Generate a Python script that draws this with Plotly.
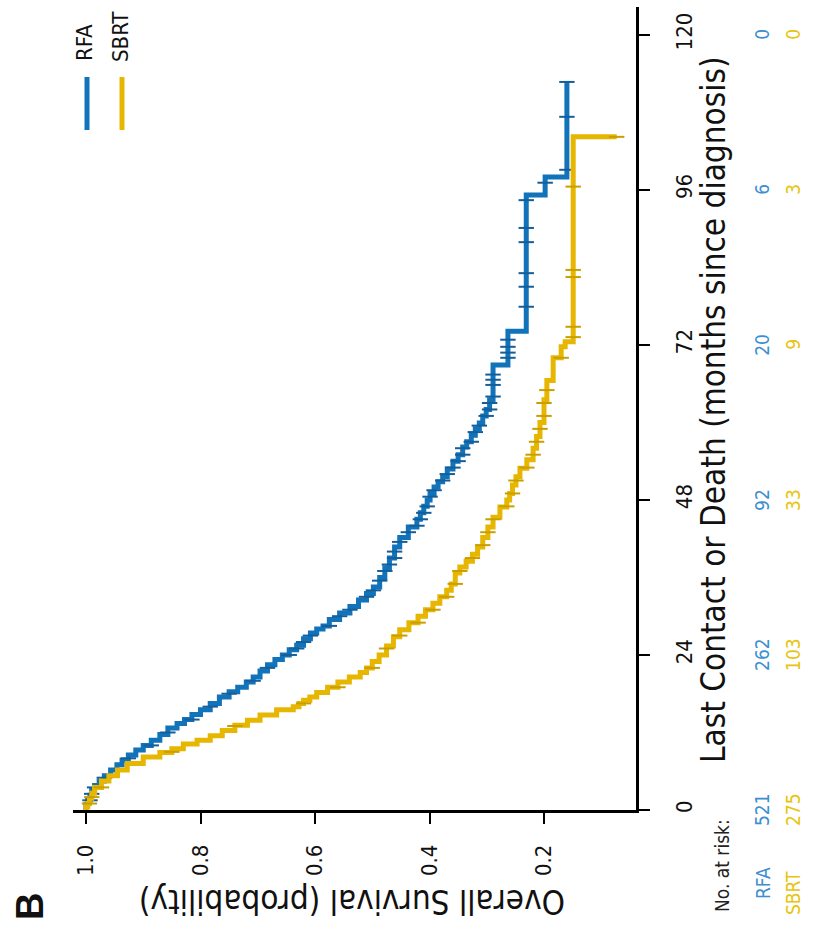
import numpy as np
import plotly.graph_objects as go

# ---------------- data ----------------
rfa_months = [0, 0.8, 1.5, 2.3, 3.1, 3.8, 4.5, 5.3, 6.2, 7.0, 7.7, 8.5, 9.3, 10.0, 10.8, 11.7,
              12.7, 13.4, 14.0, 14.8, 15.5, 16.5, 17.5, 18.3, 19.0, 19.8, 20.6, 21.5, 22.5, 23.3,
              24.0, 24.8, 25.5, 26.5, 27.4, 28.0, 28.5, 29.5, 30.5, 31.5, 32.5, 33.5, 34.5, 36.0,
              37.5, 39.0, 40.7, 42.2, 43.8, 45.0, 46.0, 47.0, 48.0, 49.0, 50.0, 50.8, 51.6, 52.8,
              54.0, 55.0, 56.2, 57.0, 58.0, 59.0, 59.9, 61.0, 62.0, 63.5, 68.9, 74.1, 95.2, 98.0,
              112.7]
rfa_surv = [1.0, 0.997, 0.993, 0.990, 0.985, 0.977, 0.968, 0.957, 0.946, 0.937, 0.926, 0.913,
            0.900, 0.886, 0.871, 0.857, 0.841, 0.828, 0.815, 0.800, 0.783, 0.767, 0.750, 0.735,
            0.720, 0.708, 0.696, 0.683, 0.670, 0.657, 0.645, 0.632, 0.620, 0.608, 0.597, 0.586,
            0.575, 0.557, 0.539, 0.524, 0.510, 0.498, 0.487, 0.478, 0.470, 0.461, 0.452, 0.437,
            0.422, 0.416, 0.410, 0.404, 0.399, 0.392, 0.385, 0.377, 0.369, 0.359, 0.350, 0.342,
            0.335, 0.327, 0.320, 0.313, 0.307, 0.301, 0.295, 0.289, 0.263, 0.231, 0.198, 0.160,
            0.160]

sbrt_months = [0, 0.5, 1.0, 1.8, 2.6, 3.5, 4.5, 5.3, 6.2, 7.2, 8.2, 8.9, 9.5, 10.2, 10.8, 11.5,
               12.3, 13.1, 13.9, 14.7, 15.5, 16.0, 16.5, 17.0, 17.5, 18.2, 19.0, 19.8, 20.6, 21.3,
               22.0, 23.0, 24.0, 25.4, 26.8, 27.9, 29.0, 30.0, 31.0, 32.0, 33.0, 34.0, 35.0, 36.7,
               37.6, 38.5, 39.6, 40.7, 42.2, 43.8, 45.3, 46.9, 48.0, 49.0, 50.3, 51.6, 52.9, 54.2,
               56.0, 57.8, 60.0, 63.5, 66.5, 70.0, 71.7, 72.5, 104.2]
sbrt_surv = [1.0, 0.997, 0.994, 0.990, 0.985, 0.973, 0.960, 0.945, 0.928, 0.900, 0.871, 0.850,
             0.830, 0.806, 0.783, 0.762, 0.740, 0.718, 0.696, 0.667, 0.638, 0.628, 0.620, 0.609,
             0.597, 0.578, 0.560, 0.540, 0.521, 0.510, 0.500, 0.488, 0.475, 0.463, 0.452, 0.436,
             0.420, 0.407, 0.394, 0.382, 0.370, 0.362, 0.355, 0.347, 0.336, 0.325, 0.316, 0.307,
             0.298, 0.289, 0.277, 0.265, 0.260, 0.255, 0.249, 0.242, 0.230, 0.219, 0.213, 0.207,
             0.200, 0.195, 0.184, 0.170, 0.163, 0.149, 0.073]

rfa_censor_months = [1.5, 2.5, 3.5, 5, 8, 10, 12, 14, 16, 18, 20, 22, 24, 25, 26, 27, 28.5, 30,
                     31, 33, 34, 35.5, 37, 38, 39, 40, 41.5, 43, 44, 45, 46, 47, 48.5, 49.5, 51,
                     52, 53, 54, 55, 56, 57, 58.5, 59.5, 61, 62, 63, 64, 65.8, 66.6, 67.4, 70.0,
                     70.8, 71.7, 72.8, 77.9, 81.0, 83.1, 87.9, 90.1, 94.4, 97.1, 99.1, 107.3, 112.7]
sbrt_censor_months = [1.0, 2, 3.5, 9, 13, 16.5, 19, 22, 25, 27, 29, 31, 33, 35, 37, 39, 41, 43,
                      45, 47, 49, 51, 53, 55, 57, 59, 61, 63, 65, 70, 73.2, 74.8, 82.5, 83.6,
                      96.5, 104.2]

risk_months = [0, 24, 48, 72, 96, 120]
rfa_at_risk = [521, 262, 92, 20, 6, 0]
sbrt_at_risk = [275, 103, 33, 9, 3, 0]

survival_ticks = [1.0, 0.8, 0.6, 0.4, 0.2]
survival_labels = ["1.0", "0.8", "0.6", "0.4", "0.2"]
month_ticks = [0, 24, 48, 72, 96, 120]
month_labels = ["0", "24", "48", "72", "96", "120"]

# ---------------- style ----------------
BLUE = "#1173ba"
YELLOW = "#e6b600"
BLUE_DARK = "#155e99"
YELLOW_DARK = "#c99f00"
BLUE_TXT = "#3d8fd1"
YELLOW_TXT = "#e8c410"
FONT = "Liberation Sans Narrow, DejaVu Sans Condensed, Liberation Sans, Arial"


def step_value(times, surv, t):
    idx = np.searchsorted(np.array(times), t, side="right") - 1
    return np.array(surv)[np.clip(idx, 0, len(surv) - 1)]


fig = go.Figure()
for months, surv, cmonths, col, dcol, name in [
    (rfa_months, rfa_surv, rfa_censor_months, BLUE, BLUE_DARK, "RFA"),
    (sbrt_months, sbrt_surv, sbrt_censor_months, YELLOW, YELLOW_DARK, "SBRT"),
]:
    fig.add_trace(go.Scatter(x=surv, y=months, mode="lines", line=dict(color=col, width=5, shape="vh"),
                             name=name, showlegend=False))
    fig.add_trace(go.Scatter(x=step_value(months, surv, np.array(cmonths)), y=cmonths, mode="markers",
                             marker=dict(symbol="line-ew-open", size=11, color=dcol,
                                         line=dict(color=dcol, width=2)),
                             showlegend=False, hoverinfo="skip"))

L, R, T, B = 73, 183, 7, 127
W, H = 819, 937
pw, ph = W - L - R, H - T - B


def px(x):
    return (x - L) / pw


def py(y):
    return (H - B - y) / ph


fig.update_layout(
    width=W, height=H,
    margin=dict(l=L, r=R, t=T, b=B, pad=0),
    paper_bgcolor="white", plot_bgcolor="white",
    font=dict(family=FONT, color="#111111"),
    xaxis=dict(range=[1.0227, 0.0393], tickvals=survival_ticks, ticktext=survival_labels,
               tickangle=-90, ticks="outside", ticklen=11, tickwidth=2, tickcolor="black",
               showline=True, linewidth=2.5, linecolor="black", showgrid=False, zeroline=False,
               tickfont=dict(size=22, family=FONT, color="#111111"), ticklabelstandoff=12),
    yaxis=dict(range=[0, 124.3], side="right", tickvals=month_ticks, ticktext=month_labels,
               tickangle=-90, ticks="outside", ticklen=11, tickwidth=2, tickcolor="black",
               showline=True, linewidth=2.5, linecolor="black", showgrid=False, zeroline=False,
               tickfont=dict(size=22, family=FONT, color="#111111"), ticklabelstandoff=16),
)

ann = []
ann.append(dict(x=px(352), y=py(902), xref="paper", yref="paper", text="Overall Survival (probability)",
                textangle=180, showarrow=False, font=dict(size=33, family=FONT, color="#111111"),
                xanchor="center", yanchor="middle"))
ann.append(dict(x=px(713), y=py(410), xref="paper", yref="paper",
                text="Last Contact or Death (months since diagnosis)",
                textangle=-90, showarrow=False, font=dict(size=33, family=FONT, color="#111111"),
                xanchor="center", yanchor="middle"))
ann.append(dict(x=px(30), y=py(907), xref="paper", yref="paper", text="<b>B</b>", textangle=-90,
                showarrow=False, font=dict(size=38, family="Liberation Sans, Arial", color="#111111"),
                xanchor="center", yanchor="middle"))
ann.append(dict(x=px(722), y=py(866), xref="paper", yref="paper", text="No. at risk:", textangle=-90,
                showarrow=False, font=dict(size=19, family=FONT, color="#222222"),
                xanchor="center", yanchor="middle"))
ann.append(dict(x=px(763), y=py(883), xref="paper", yref="paper", text="RFA", textangle=-90,
                showarrow=False, font=dict(size=19, family=FONT, color=BLUE_TXT),
                xanchor="center", yanchor="middle"))
ann.append(dict(x=px(793), y=py(893), xref="paper", yref="paper", text="SBRT", textangle=-90,
                showarrow=False, font=dict(size=19, family=FONT, color=YELLOW_TXT),
                xanchor="center", yanchor="middle"))
for m, a, b in zip(risk_months, rfa_at_risk, sbrt_at_risk):
    ann.append(dict(x=px(762), y=m, xref="paper", yref="y", text=str(a), textangle=-90,
                    showarrow=False, font=dict(size=19, family=FONT, color=BLUE_TXT),
                    xanchor="center", yanchor="middle"))
    ann.append(dict(x=px(793), y=m, xref="paper", yref="y", text=str(b), textangle=-90,
                    showarrow=False, font=dict(size=19, family=FONT, color=YELLOW_TXT),
                    xanchor="center", yanchor="middle"))
# legend
ann.append(dict(x=px(85), y=py(43), xref="paper", yref="paper", text="RFA", textangle=-90,
                showarrow=False, font=dict(size=22, family=FONT, color="#111111"),
                xanchor="center", yanchor="middle"))
ann.append(dict(x=px(120), y=py(37), xref="paper", yref="paper", text="SBRT", textangle=-90,
                showarrow=False, font=dict(size=22, family=FONT, color="#111111"),
                xanchor="center", yanchor="middle"))
fig.update_layout(annotations=ann)

fig.add_shape(type="line", xref="paper", yref="paper", x0=px(87), x1=px(87), y0=py(77), y1=py(130),
              line=dict(color=BLUE, width=5))
fig.add_shape(type="line", xref="paper", yref="paper", x0=px(122), x1=px(122), y0=py(77), y1=py(130),
              line=dict(color=YELLOW, width=5))

fig.write_html("out.html")
